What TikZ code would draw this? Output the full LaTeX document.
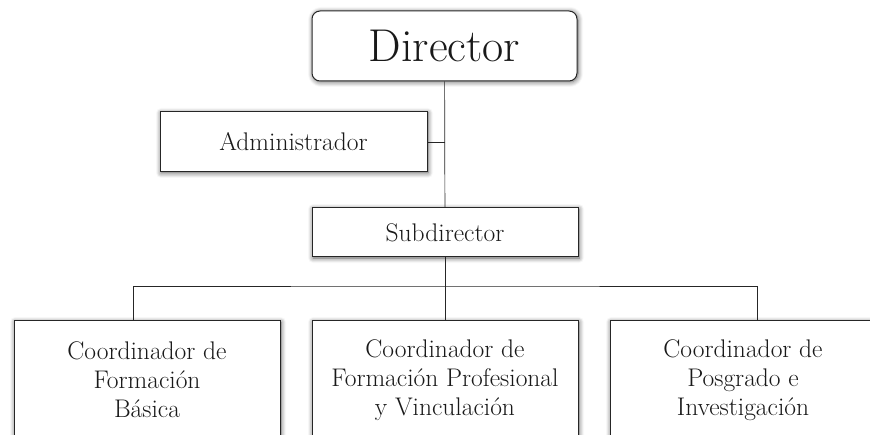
\documentclass[tikz,border=0pt]{standalone}
\usetikzlibrary{shadows.blur}
\tikzset{
  orgbox/.style={draw=black!85,line width=1pt,fill=white,align=center,inner sep=0pt,
    minimum width=266pt,text=black!90,
    blur shadow={shadow blur steps=6,shadow xshift=1pt,shadow yshift=-1pt,
      shadow blur radius=5pt,shadow opacity=65}},
  midsize/.style={font=\fontsize{25.5}{29}\selectfont},
}
\begin{document}
\begin{tikzpicture}[x=1pt,y=-1pt]
  \useasboundingbox (0,0) rectangle (870,435);

  \begin{scope}[every node/.style={orgbox}]
    \node[rounded corners=8pt,minimum width=265pt,minimum height=70pt,
          font=\fontsize{46}{52}\selectfont] (dir) at (444.5,46) {Director};
    \node[minimum width=267pt,minimum height=60pt,midsize] (adm) at (293.5,142) {Administrador};
    \node[minimum height=49pt,midsize] (sub) at (445,232.5) {Subdirector};
    \node[minimum height=118pt,midsize] (cfb) at (147,380)
      {Coordinador de\\Formación\\Básica};
    \node[minimum height=118pt,midsize] (cfp) at (445,380)
      {Coordinador de\\Formación Profesional\\y Vinculación};
    \node[minimum height=118pt,midsize] (cpi) at (743,380)
      {Coordinador de\\Posgrado e\\Investigación};
  \end{scope}

  \coordinate (bus) at (445,286);

  \begin{scope}[every edge/.style={draw,line width=0.7pt,black!85}]
    \path (dir) edge (sub);
    \path (adm.east) edge (adm.east -| dir.south);
    \path (sub) edge (bus);
    \path (bus) edge (cfp);
  \end{scope}
  \draw[line width=0.7pt,black!85] ([xshift=-14pt]cfb.north) |- (bus) -| ([xshift=14pt]cpi.north);

\end{tikzpicture}
\end{document}
